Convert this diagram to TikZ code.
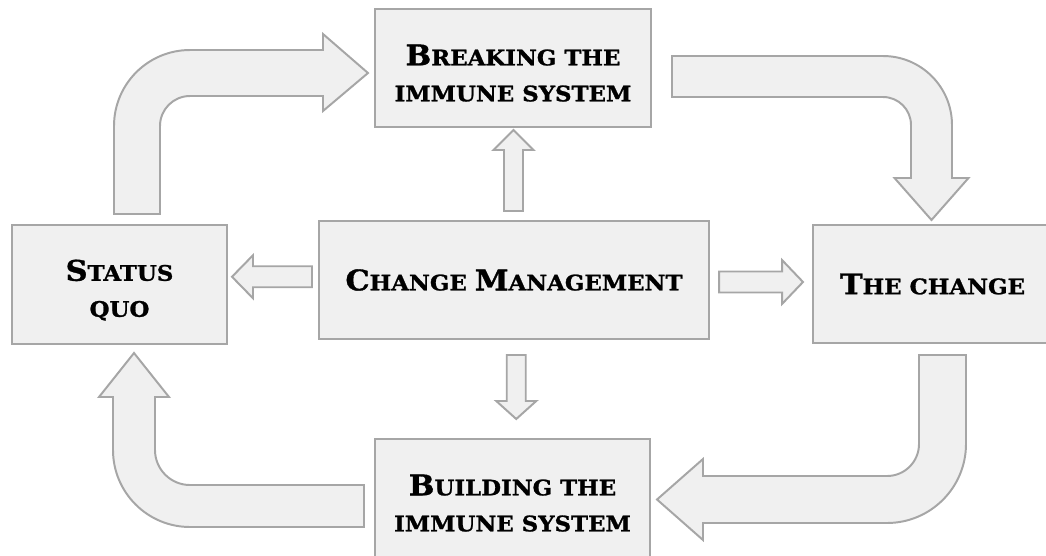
\documentclass[tikz,border=0pt]{standalone}
\usepackage{fontspec}
\setmainfont{DejaVu Serif}[BoldFeatures={FakeStretch=1.07, FakeBold=1.2}]
\usepackage{tikz}
\usetikzlibrary{calc, positioning}
\definecolor{boxfill}{HTML}{F0F0F0}
\definecolor{boxline}{HTML}{A6A6A6}
% first letter of a fake small-caps word
\newcommand\ini[1]{\scalebox{1.33}{#1}}
% straight block arrow: centre, angle, length, shaft, head width, head length
\newcommand\blockarr[6]{%
  \draw[blk, shift={(#1)}, rotate=#2] (-#3/2,-#4/2) -- (#3/2-#6,-#4/2) -- (#3/2-#6,-#5/2)
    -- (#3/2,0) -- (#3/2-#6,#5/2) -- (#3/2-#6,#4/2) -- (-#3/2,#4/2) -- cycle;}

\begin{document}
\begin{tikzpicture}[
    x=0.025cm, y=-0.025cm,
    box/.style={draw=boxline, fill=boxfill, line width=1.4pt, inner sep=0pt, outer sep=0pt,
                align=center, minimum height=2.95cm},
    blk/.style={draw=boxline, fill=boxfill, line width=1.4pt},
    txt/.style={font=\fontsize{15.2pt}{25.6pt}\selectfont\bfseries}
]
    \useasboundingbox (0,0) rectangle (1046,555);
    \clip (0,0) rectangle (1046,555);

    % boxes
    \node[box, txt, minimum width=6.9cm] (brk) at (513,68) {\rule{0pt}{22pt}\ini{B}REAKING THE\\IMMUNE SYSTEM};
    \node[box, txt, minimum width=5.375cm, minimum height=2.975cm] (sq) at (119.5,284.5) {\rule{0pt}{23pt}\ini{S}TATUS\\QUO};
    \node[box, txt, minimum width=9.75cm] (cm) at (514,280) {\ini{C}HANGE \ini{M}ANAGEMENT};
    \node[box, txt, minimum width=5.975cm] (chg) at (932.5,284) {\ini{T}HE CHANGE};
    \node[box, txt, minimum width=6.875cm] (bld) at (512.5,498) {\rule{0pt}{22pt}\ini{B}UILDING THE\\IMMUNE SYSTEM};

    % small arrows out of the centre box
    \coordinate (up) at ($($(cm.north)!.5!(brk.south)$)+(0,-3.5)$);
    \coordinate (dn) at ($($(cm.south)!.5!(bld.north)$)+(3,-2)$);
    \coordinate (lf) at ($($(sq.east)!.5!(cm.west)$)+(-1,-5.5)$);
    \coordinate (rt) at ($(cm.east)!.5!(chg.west)$);
    \blockarr{up}{90}{81}{19}{40}{20}
    \blockarr{dn}{-90}{64}{19}{40}{18}
    \blockarr{lf}{180}{80}{21}{43}{21}
    \blockarr{rt}{0}{84}{21}{44}{21}

    % bent arrows round the cycle
    \draw[blk] (114,214) -- (114,126) .. controls (114,84) and (148,50) .. (190,50) -- (323,50)
        -- (323,34) -- (368,73) -- (323,111) -- (323,96) -- (190,96)
        .. controls (173.4,96) and (160,109.4) .. (160,126) -- (160,214) -- cycle;
    \draw[blk] (672,56) -- (883,56) .. controls (921.1,56) and (952,86.9) .. (952,125) -- (952,178)
        -- (968.5,178) -- (931.5,220) -- (894.5,178) -- (911,178) -- (911,125)
        .. controls (911,109.5) and (898.5,97) .. (883,97) -- (672,97) -- cycle;
    \draw[blk] (919,355) -- (966,355) -- (966,444) .. controls (966,487.6) and (930.6,523) .. (887,523)
        -- (703,523) -- (703,540) -- (657,499.5) -- (703,459) -- (703,476) -- (887,476)
        .. controls (904.7,476) and (919,461.7) .. (919,444) -- cycle;
    \draw[blk] (364,485) -- (364,527) -- (190,527) .. controls (147.5,527) and (113,492.5) .. (113,450)
        -- (113,397) -- (99,397) -- (134,353) -- (169,397) -- (155,397) -- (155,450)
        .. controls (155,469.3) and (170.7,485) .. (190,485) -- cycle;
\end{tikzpicture}
\end{document}
